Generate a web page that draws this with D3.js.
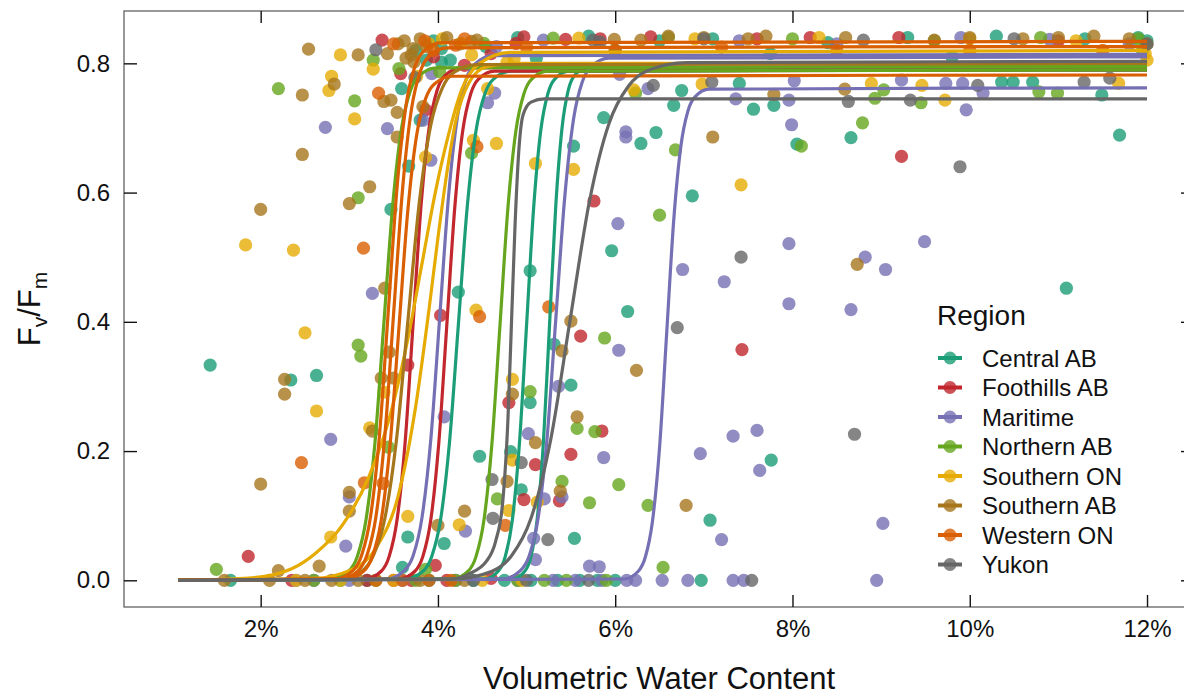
<!DOCTYPE html>
<html>
<head>
<meta charset="utf-8">
<script src="https://cdn.jsdelivr.net/npm/d3@7"></script>
<style>
  body { margin: 0; background: #fff; }
  svg { display: block; font-family: "Liberation Sans", Arial, Helvetica, sans-serif; }
</style>
</head>
<body>
<svg id="chart" width="1184" height="698"></svg>
<script>
const regions = ["Central AB", "Foothills AB", "Maritime", "Northern AB", "Southern ON", "Southern AB", "Western ON", "Yukon"];
const regionColors = ["#1b9e77", "#c1272d", "#7570b3", "#66a61e", "#e6ab02", "#a6761d", "#d95f02", "#666666"];
const xTicks = [2, 4, 6, 8, 10, 12];
const yTicks = [0, 0.2, 0.4, 0.6, 0.8];

// observations: [volumetric water content (%), Fv/Fm]
const centralAB = [
  [1.43, 0.333], [2.34, 0.310], [2.63, 0.317], [3.47, 0.574], [3.67, 0.641], [3.59, 0.761], [3.80, 0.712],
  [3.87, 0.805], [4.04, 0.823], [4.04, 0.802], [4.14, 0.805], [4.54, 0.826], [4.23, 0.446], [3.66, 0.067],
  [3.60, 0.020], [4.07, 0.057], [4.47, 0.192], [4.82, 0.199], [4.94, 0.140], [5.04, 0.275], [5.04, 0.479],
  [5.11, 0.808], [5.31, 0.365], [5.50, 0.302], [5.54, 0.065], [5.53, 0.672], [5.87, 0.716], [5.96, 0.510],
  [6.14, 0.416], [6.29, 0.676], [6.46, 0.693], [6.66, 0.735], [6.75, 0.758], [6.87, 0.595], [7.07, 0.093],
  [7.40, 0.769], [7.56, 0.729], [7.76, 0.186], [7.79, 0.735], [8.05, 0.675], [8.66, 0.685], [10.36, 0.771],
  [10.49, 0.771], [10.71, 0.771], [11.09, 0.452], [11.49, 0.751], [11.69, 0.689],
  [3.75, 0.82], [3.95, 0.835], [4.25, 0.83], [4.9, 0.84], [5.7, 0.842],
  [6.5, 0.835], [7.1, 0.838], [7.75, 0.815], [8.4, 0.832], [9.3, 0.84], [9.8, 0.81], [10.3, 0.842],
  [11.3, 0.838], [11.9, 0.84], [12.0, 0.835], [6.0, 0.82],
  [1.66, 0], [2.9, 0], [3.2, 0], [3.9, 0], [4.4, 0], [4.75, 0], [5.05, 0], [5.35, 0], [5.6, 0], [5.8, 0], [6.0, 0], [6.97, 0]
];
const foothillsAB = [
  [1.86, 0.037], [3.37, 0.836], [3.58, 0.784], [3.66, 0.333], [3.86, 0.728], [3.97, 0.023], [4.03, 0.410],
  [4.30, 0.797], [4.80, 0.275], [4.88, 0.831], [4.97, 0.841], [4.97, 0.125], [5.10, 0.179], [5.37, 0.123],
  [5.44, 0.837], [5.50, 0.195], [5.61, 0.378], [5.76, 0.587], [5.85, 0.231], [5.83, 0.838], [6.40, 0.841],
  [7.43, 0.357], [7.6, 0.838], [8.2, 0.84], [9.2, 0.84], [9.23, 0.656], [11.0, 0.835], [3.95, 0.81], [4.6, 0.815],
  [2.35, 0], [3.2, 0], [3.5, 0], [3.7, 0], [4.1, 0], [4.6, 0.003]
];
const maritime = [
  [2.73, 0.701], [2.79, 0.218], [2.96, 0.053], [3.00, 0.129], [3.26, 0.444], [3.43, 0.699], [3.83, 0.712],
  [3.92, 0.650], [3.93, 0.784], [4.07, 0.253], [4.31, 0.076], [4.56, 0.739], [4.64, 0.754], [4.66, 0.826],
  [5.02, 0.227], [5.08, 0.065], [5.10, 0.032], [5.19, 0.836], [5.20, 0.126], [5.36, 0.300], [5.40, 0.129],
  [5.71, 0.022], [5.82, 0.021], [5.87, 0.190], [6.03, 0.552], [6.04, 0.356], [6.05, 0.783], [6.12, 0.694],
  [6.12, 0.686], [6.37, 0.761], [6.76, 0.481], [6.96, 0.196], [7.20, 0.063], [7.23, 0.462], [7.33, 0.223],
  [7.36, 0.745], [7.4, 0.835], [7.60, 0.232], [7.63, 0.170], [7.96, 0.428], [7.96, 0.521], [7.96, 0.743],
  [7.99, 0.705], [8.02, 0.773], [8.5, 0.83], [8.66, 0.419], [8.82, 0.500], [9.02, 0.088], [9.05, 0.481],
  [9.23, 0.774], [9.49, 0.524], [9.73, 0.769], [9.9, 0.84], [9.92, 0.769], [9.96, 0.728], [10.15, 0.754],
  [10.9, 0.837], [11.8, 0.83],
  [2.4, 0], [2.6, 0], [3.0, 0], [3.6, 0], [4.2, 0], [4.9, 0], [5.3, 0], [5.55, 0], [5.85, 0], [6.13, 0],
  [6.23, 0], [6.53, 0], [6.82, 0], [7.33, 0], [7.45, 0], [8.95, 0]
];
const northernAB = [
  [1.50, 0.017], [2.20, 0.761], [3.06, 0.742], [3.10, 0.592], [3.10, 0.364], [3.13, 0.347], [3.27, 0.805],
  [3.44, 0.206], [3.56, 0.792], [3.86, 0.017], [4.02, 0.787], [4.38, 0.661], [4.52, 0.831], [4.67, 0.126],
  [5.04, 0.292], [5.30, 0.839], [5.40, 0.153], [5.57, 0.235], [5.71, 0.120], [5.77, 0.230], [5.88, 0.375],
  [6.04, 0.148], [6.23, 0.754], [6.37, 0.116], [6.50, 0.565], [6.54, 0.020], [6.6, 0.84], [6.68, 0.666],
  [8.0, 0.838], [8.10, 0.672], [8.79, 0.708], [8.93, 0.746], [9.03, 0.759], [9.45, 0.739], [9.6, 0.835],
  [10.78, 0.756], [10.8, 0.84], [10.99, 0.754], [11.9, 0.838], [11.95, 0.82],
  [2.6, 0], [3.3, 0], [3.75, 0], [4.2, 0], [4.9, 0], [5.2, 0], [5.45, 0], [5.9, 0]
];
const southernON = [
  [1.83, 0.519], [2.37, 0.511], [2.50, 0.383], [2.63, 0.262], [2.77, 0.758], [2.79, 0.067], [2.80, 0.780],
  [2.90, 0.813], [3.06, 0.714], [3.23, 0.236], [3.27, 0.791], [3.39, 0.291], [3.66, 0.099], [3.76, 0.780],
  [3.86, 0.655], [3.9, 0.83], [4.05, 0.838], [4.24, 0.086], [4.26, 0.831], [4.38, 0.813], [4.40, 0.681],
  [4.43, 0.418], [4.56, 0.761], [4.66, 0.676], [4.78, 0.802], [4.80, 0.108], [4.84, 0.186], [4.84, 0.311],
  [4.86, 0.807], [5.10, 0.645], [5.12, 0.121], [5.53, 0.636], [5.59, 0.839], [6.21, 0.759], [6.9, 0.838],
  [6.98, 0.768], [7.42, 0.612], [8.3, 0.84], [8.89, 0.769], [9.46, 0.766], [9.72, 0.743], [10.0, 0.838],
  [11.2, 0.835], [11.68, 0.769], [12.0, 0.805], [11.98, 0.815],
  [2.4, 0], [2.9, 0], [3.5, 0], [4.5, 0], [4.95, 0]
];
const southernAB = [
  [2.00, 0.149], [2.00, 0.574], [2.20, 0.015], [2.27, 0.311], [2.27, 0.288], [2.47, 0.751], [2.47, 0.659],
  [2.54, 0.822], [2.66, 0.022], [2.83, 0.768], [3.00, 0.136], [3.00, 0.107], [3.00, 0.583], [3.10, 0.813],
  [3.23, 0.609], [3.26, 0.231], [3.36, 0.313], [3.39, 0.741], [3.40, 0.452], [3.43, 0.815], [3.45, 0.353],
  [3.47, 0.743], [3.50, 0.313], [3.54, 0.724], [3.54, 0.686], [3.55, 0.83], [3.62, 0.835], [3.64, 0.808],
  [3.70, 0.813], [3.72, 0.823], [3.73, 0.802], [3.8, 0.838], [3.83, 0.733], [3.87, 0.826], [4.00, 0.085],
  [4.1, 0.84], [4.30, 0.107], [4.38, 0.834], [4.44, 0.836], [4.78, 0.153], [4.84, 0.288], [5.10, 0.213],
  [5.38, 0.138], [5.40, 0.355], [5.50, 0.401], [5.57, 0.253], [5.99, 0.837], [6.24, 0.325], [6.29, 0.836],
  [6.6, 0.842], [6.80, 0.116], [7.0, 0.84], [7.10, 0.686], [7.5, 0.838], [7.7, 0.842], [7.79, 0.752],
  [8.59, 0.760], [8.6, 0.84], [8.73, 0.489], [9.6, 0.836], [10.0, 0.84], [10.6, 0.838], [11.0, 0.84],
  [11.4, 0.842], [11.8, 0.838], [12.0, 0.83],
  [1.59, 0], [2.10, 0], [2.5, 0], [2.8, 0], [3.1, 0], [3.8, 0], [4.3, 0]
];
const westernON = [
  [2.46, 0.182], [3.16, 0.514], [3.17, 0.151], [3.33, 0.754], [3.38, 0.150], [3.5, 0.83], [3.85, 0.835],
  [3.95, 0.82], [4.2, 0.828], [4.3, 0.838], [4.44, 0.671], [4.47, 0.408], [4.76, 0.085], [5.0, 0.825],
  [5.25, 0.423], [6.0, 0.82], [7.2, 0.825], [8.5, 0.82], [10.0, 0.82], [11.5, 0.82],
  [3.3, 0], [3.6, 0], [3.9, 0], [4.15, 0]
];
const yukon = [
  [3.30, 0.821], [3.74, 0.778], [4.61, 0.156], [4.62, 0.096], [4.94, 0.182], [5.24, 0.063], [5.75, 0.836],
  [5.83, 0.833], [6.43, 0.766], [6.70, 0.391], [7.0, 0.838], [7.09, 0.771], [7.42, 0.500], [8.63, 0.741],
  [8.70, 0.226], [8.8, 0.836], [9.33, 0.743], [9.89, 0.640], [10.09, 0.766], [10.5, 0.838], [11.29, 0.771],
  [11.58, 0.777], [12.0, 0.83],
  [4.4, 0], [5.0, 0], [5.7, 0], [7.54, 0]
];

// fitted response curves, one polyline per fit: [VWC %, Fv/Fm]
const curvesCentralAB = [
  [[1.07, 0], [3.63, 0.002], [3.83, 0.014], [3.93, 0.037], [4.03, 0.094], [4.13, 0.213], [4.23, 0.395], [4.33, 0.577], [4.43, 0.696], [4.53, 0.753], [4.63, 0.776], [4.83, 0.788], [12, 0.79]],
  [[1.07, 0], [4.52, 0.002], [4.68, 0.014], [4.76, 0.037], [4.84, 0.094], [4.92, 0.213], [5.00, 0.395], [5.08, 0.577], [5.16, 0.696], [5.24, 0.753], [5.32, 0.776], [5.48, 0.788], [12, 0.79]],
  [[1.07, 0], [4.84, 0.002], [4.98, 0.014], [5.05, 0.037], [5.12, 0.095], [5.19, 0.214], [5.26, 0.398], [5.33, 0.581], [5.40, 0.700], [5.47, 0.758], [5.54, 0.781], [5.68, 0.793], [12, 0.795]]
];
const curvesFoothillsAB = [
  [[1.07, 0], [3.18, 0.002], [3.36, 0.014], [3.45, 0.037], [3.54, 0.095], [3.63, 0.214], [3.72, 0.398], [3.81, 0.581], [3.90, 0.700], [3.99, 0.758], [4.08, 0.781], [4.26, 0.793], [12, 0.795]],
  [[1.07, 0], [3.56, 0.002], [3.74, 0.014], [3.83, 0.037], [3.92, 0.094], [4.01, 0.213], [4.10, 0.395], [4.19, 0.577], [4.28, 0.696], [4.37, 0.753], [4.46, 0.776], [4.64, 0.788], [12, 0.79]]
];
const curvesMaritime = [
  [[1.07, 0], [3.42, 0.002], [3.62, 0.015], [3.72, 0.038], [3.82, 0.097], [3.92, 0.219], [4.02, 0.407], [4.12, 0.595], [4.22, 0.717], [4.32, 0.776], [4.42, 0.799], [4.62, 0.812], [12, 0.814]],
  [[1.07, 0], [4.73, 0.002], [4.93, 0.015], [5.03, 0.038], [5.13, 0.096], [5.23, 0.218], [5.33, 0.405], [5.43, 0.592], [5.53, 0.714], [5.63, 0.772], [5.73, 0.795], [5.93, 0.808], [12, 0.81]],
  [[1.07, 0], [6.10, 0.002], [6.26, 0.014], [6.34, 0.036], [6.42, 0.091], [6.50, 0.205], [6.58, 0.381], [6.66, 0.557], [6.74, 0.671], [6.82, 0.726], [6.90, 0.748], [7.06, 0.760], [12, 0.762]]
];
const curvesNorthernAB = [
  [[1.07, 0], [2.79, 0.002], [2.99, 0.014], [3.09, 0.037], [3.19, 0.095], [3.29, 0.214], [3.39, 0.398], [3.49, 0.581], [3.59, 0.700], [3.69, 0.758], [3.79, 0.781], [3.99, 0.793], [12, 0.795]],
  [[1.07, 0], [4.16, 0.002], [4.34, 0.014], [4.43, 0.037], [4.52, 0.094], [4.61, 0.213], [4.70, 0.395], [4.79, 0.577], [4.88, 0.696], [4.97, 0.753], [5.06, 0.776], [5.24, 0.788], [12, 0.79]]
];
const curvesSouthernON = [
  [[1.07, 0], [1.9, 0.004], [2.35, 0.018], [2.62, 0.042], [2.92, 0.085], [3.22, 0.16], [3.47, 0.26], [3.67, 0.38], [3.82, 0.49], [3.97, 0.6], [4.12, 0.69], [4.27, 0.76], [4.47, 0.80], [4.82, 0.817], [12, 0.82]],
  [[1.07, 0], [2.6, 0.003], [3.0, 0.015], [3.3, 0.05], [3.55, 0.13], [3.75, 0.27], [3.9, 0.42], [4.0, 0.53], [4.1, 0.63], [4.2, 0.71], [4.35, 0.77], [4.55, 0.795], [4.9, 0.80], [12, 0.80]]
];
const curvesSouthernAB = [
  [[1.07, 0], [2.88, 0.002], [3.14, 0.014], [3.27, 0.038], [3.40, 0.095], [3.53, 0.215], [3.66, 0.400], [3.79, 0.585], [3.92, 0.705], [4.05, 0.762], [4.18, 0.786], [4.44, 0.798], [12, 0.80]]
];
const curvesWesternON = [
  [[1.07, 0], [2.84, 0.002], [3.04, 0.015], [3.14, 0.039], [3.24, 0.099], [3.34, 0.224], [3.44, 0.417], [3.54, 0.610], [3.64, 0.735], [3.74, 0.795], [3.84, 0.819], [4.04, 0.832], [12, 0.834]],
  [[1.07, 0], [2.90, 0.002], [3.10, 0.015], [3.20, 0.039], [3.30, 0.098], [3.40, 0.222], [3.50, 0.413], [3.60, 0.604], [3.70, 0.728], [3.80, 0.787], [3.90, 0.811], [4.10, 0.824], [12, 0.826]],
  [[1.07, 0], [2.96, 0.002], [3.16, 0.014], [3.26, 0.037], [3.36, 0.093], [3.46, 0.210], [3.56, 0.391], [3.66, 0.572], [3.76, 0.689], [3.86, 0.745], [3.96, 0.768], [4.16, 0.780], [12, 0.782]]
];
const curvesYukon = [
  [[1.07, 0], [4.15, 0.002], [4.35, 0.01], [4.55, 0.03], [4.65, 0.06], [4.73, 0.12], [4.79, 0.25], [4.83, 0.40], [4.87, 0.55], [4.91, 0.66], [4.96, 0.72], [5.05, 0.74], [5.2, 0.745], [12, 0.745]],
  [[1.07, 0], [4.17, 0.002], [4.61, 0.014], [4.83, 0.038], [5.05, 0.096], [5.27, 0.216], [5.49, 0.402], [5.71, 0.587], [5.93, 0.707], [6.15, 0.765], [6.37, 0.789], [6.81, 0.801], [12, 0.803]]
];

const pointSets = [centralAB, foothillsAB, maritime, northernAB, southernON, southernAB, westernON, yukon];
const curveSets = [curvesCentralAB, curvesFoothillsAB, curvesMaritime, curvesNorthernAB, curvesSouthernON, curvesSouthernAB, curvesWesternON, curvesYukon];

const panel = { left: 124, right: 1194, top: 11, bottom: 607 };
const svg = d3.select("#chart");

const x = d3.scaleLinear().domain([0.458, 12.53]).range([panel.left, panel.right]);
const y = d3.scaleLinear().domain([-0.0413, 0.881]).range([panel.bottom, panel.top]);

svg.append("clipPath").attr("id", "panelClip")
  .append("rect")
  .attr("x", panel.left).attr("y", panel.top)
  .attr("width", panel.right - panel.left).attr("height", panel.bottom - panel.top);

const plot = svg.append("g").attr("clip-path", "url(#panelClip)");

// points first, lines on top
regions.forEach((region, i) => {
  plot.append("g")
    .selectAll("circle")
    .data(pointSets[i])
    .join("circle")
    .attr("cx", (d) => x(d[0]))
    .attr("cy", (d) => y(d[1]))
    .attr("r", 6.6)
    .attr("fill", regionColors[i])
    .attr("fill-opacity", 0.8);
});

const line = d3.line()
  .x((d) => x(d[0]))
  .y((d) => y(d[1]))
  .curve(d3.curveMonotoneX);

regions.forEach((region, i) => {
  plot.append("g")
    .selectAll("path")
    .data(curveSets[i])
    .join("path")
    .attr("d", line)
    .attr("fill", "none")
    .attr("stroke", regionColors[i])
    .attr("stroke-width", 3.2)
    .attr("stroke-linejoin", "round");
});

// panel border
svg.append("rect")
  .attr("x", panel.left).attr("y", panel.top)
  .attr("width", panel.right - panel.left).attr("height", panel.bottom - panel.top)
  .attr("fill", "none")
  .attr("stroke", "#555")
  .attr("stroke-width", 1.2);

function styleAxis(g, size) {
  g.select(".domain").remove();
  g.selectAll(".tick line").attr("stroke", "#111").attr("stroke-width", 1.4);
  g.selectAll(".tick text").attr("fill", "#111").attr("font-size", size);
}

svg.append("g")
  .attr("transform", `translate(0,${panel.bottom})`)
  .call(d3.axisBottom(x).tickValues(xTicks).tickSizeInner(-12).tickSizeOuter(0).tickPadding(13).tickFormat((d) => `${d}%`))
  .call((g) => styleAxis(g, 24))
  .attr("font-family", null);

svg.append("g")
  .attr("transform", `translate(0,${panel.top})`)
  .call(d3.axisTop(x).tickValues(xTicks).tickSizeInner(-12).tickSizeOuter(0).tickFormat(""))
  .call((g) => styleAxis(g, 24));

svg.append("g")
  .attr("transform", `translate(${panel.left},0)`)
  .call(d3.axisLeft(y).tickValues(yTicks).tickSizeInner(-13).tickSizeOuter(0).tickPadding(14).tickFormat(d3.format(".1f")))
  .call((g) => styleAxis(g, 24))
  .attr("font-family", null);

svg.append("g")
  .attr("transform", `translate(${panel.right},0)`)
  .call(d3.axisRight(y).tickValues(yTicks).tickSizeInner(-13).tickSizeOuter(0).tickFormat(""))
  .call((g) => styleAxis(g, 24));

// axis titles
svg.append("text")
  .attr("x", (panel.left + panel.right) / 2)
  .attr("y", 689)
  .attr("text-anchor", "middle")
  .attr("font-size", 31)
  .attr("fill", "#111")
  .text("Volumetric Water Content");

const yTitle = svg.append("text")
  .attr("transform", `translate(40,${(panel.top + panel.bottom) / 2}) rotate(-90)`)
  .attr("text-anchor", "middle")
  .attr("font-size", 31)
  .attr("fill", "#111");
yTitle.append("tspan").text("F");
yTitle.append("tspan").attr("font-size", 21).attr("dy", 7).text("v");
yTitle.append("tspan").attr("dy", -7).text("/F");
yTitle.append("tspan").attr("font-size", 21).attr("dy", 7).text("m");

// legend
const legend = svg.append("g");
legend.append("text")
  .attr("x", 937).attr("y", 325)
  .attr("font-size", 28)
  .attr("fill", "#111")
  .text("Region");

const legendRow = d3.scaleLinear().domain([0, 7]).range([358, 564.5]);
const items = legend.selectAll("g.item")
  .data(regions)
  .join("g")
  .attr("class", "item")
  .attr("transform", (d, i) => `translate(0,${legendRow(i)})`);

items.append("line")
  .attr("x1", 938).attr("x2", 962)
  .attr("stroke", (d, i) => regionColors[i])
  .attr("stroke-width", 4);
items.append("circle")
  .attr("cx", 950).attr("r", 6.5)
  .attr("fill", (d, i) => regionColors[i])
  .attr("fill-opacity", 0.8);
items.append("text")
  .attr("x", 982).attr("y", 8.5)
  .attr("font-size", 24)
  .attr("fill", "#111")
  .text((d) => d);
</script>
</body>
</html>
